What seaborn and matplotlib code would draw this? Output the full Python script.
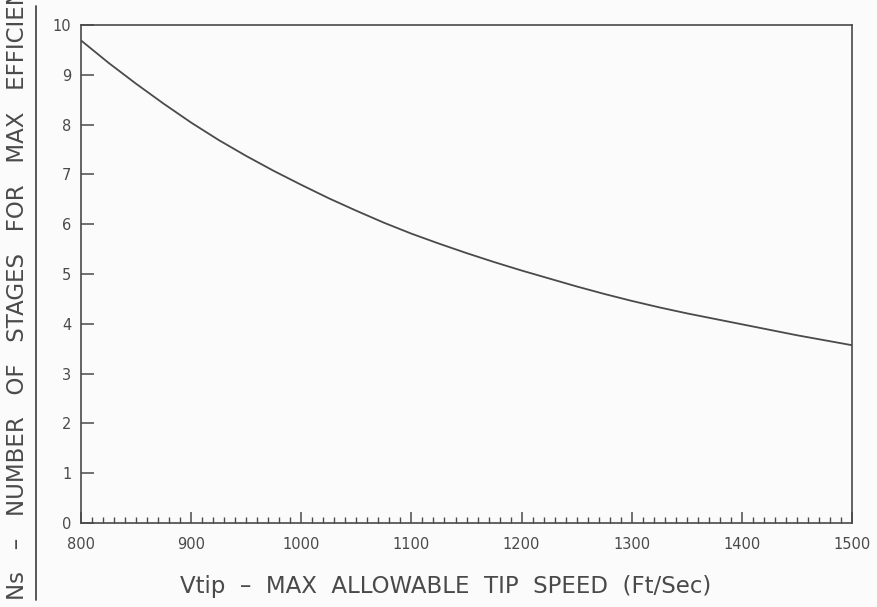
"""
plot.py
Number of compressor stages for max efficiency vs. max allowable tip speed.
"""

import matplotlib.pyplot as plt
import pandas as pd
import seaborn as sns
from matplotlib.lines import Line2D
from matplotlib.ticker import MultipleLocator

# values
tip_speed = [800, 825, 850, 875, 900, 925, 950, 975, 1000, 1025, 1050, 1075, 1100,
             1125, 1150, 1175, 1200, 1225, 1250, 1275, 1300, 1325, 1350, 1375, 1400,
             1425, 1450, 1475, 1500]
stages = [9.69, 9.24, 8.82, 8.42, 8.04, 7.69, 7.37, 7.07, 6.79, 6.52, 6.27, 6.03, 5.81,
          5.61, 5.42, 5.24, 5.07, 4.91, 4.75, 4.60, 4.46, 4.33, 4.21, 4.10, 3.99,
          3.88, 3.77, 3.67, 3.57]
x_ticks = [800, 900, 1000, 1100, 1200, 1300, 1400, 1500]
y_ticks = [0, 1, 2, 3, 4, 5, 6, 7, 8, 9, 10]

x_title = "Vtip  \u2013  MAX  ALLOWABLE  TIP  SPEED  (Ft/Sec)"
y_title = "Ns   \u2013   NUMBER   OF   STAGES   FOR   MAX   EFFICIENCY"

INK = "#4a4a4a"
PAPER = "#fbfbfb"


def main():
    df = pd.DataFrame({"tip_speed": tip_speed, "stages": stages})

    sns.set_theme(style="ticks")
    plt.rcParams["font.family"] = ["DejaVu Sans"]

    fig = plt.figure(figsize=(8.78, 6.07), dpi=100, facecolor=PAPER)
    ax = fig.add_axes([0.0923, 0.1384, 0.8781, 0.8204])
    ax.set_facecolor(PAPER)

    sns.lineplot(data=df, x="tip_speed", y="stages", ax=ax, color=INK, linewidth=1.3)

    ax.set_xlim(800, 1500)
    ax.set_ylim(0, 10)
    ax.set_xticks(x_ticks)
    ax.set_yticks(y_ticks)
    ax.xaxis.set_minor_locator(MultipleLocator(10))
    ax.tick_params(axis="x", which="major", direction="in", length=8, width=1.1,
                   color=INK, labelcolor=INK, labelsize=10.5, pad=10)
    ax.tick_params(axis="x", which="minor", direction="in", length=4, width=1.0, color=INK)
    ax.tick_params(axis="y", which="major", direction="in", length=9, width=1.1,
                   color=INK, labelcolor=INK, labelsize=10.5, pad=7)
    ax.set_xlabel("")
    ax.set_ylabel("")

    for spine in ax.spines.values():
        spine.set_color(INK)
        spine.set_linewidth(1.2)

    fig.text(0.507, 0.033, x_title, ha="center", va="center", fontsize=16.5,
             color=INK)
    fig.text(0.0205, 0.012, y_title, ha="center", va="bottom", rotation=90,
             fontsize=16.5, color=INK)
    fig.add_artist(Line2D([0.041, 0.041], [0.012, 0.99], transform=fig.transFigure,
                          color=INK, linewidth=1.3))

    fig.savefig("out.png", dpi=100, facecolor=PAPER)


if __name__ == "__main__":
    main()
